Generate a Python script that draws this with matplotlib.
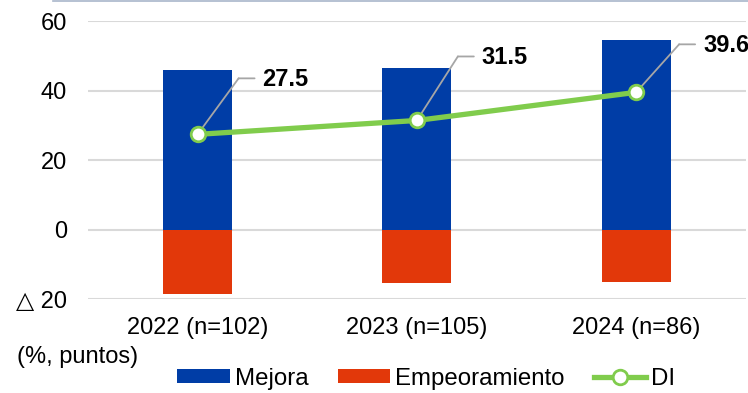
import numpy as np
import matplotlib
matplotlib.use("Agg")
import matplotlib.pyplot as plt
from matplotlib import transforms
from matplotlib.lines import Line2D

plt.rcParams['font.family'] = ['Liberation Sans', 'DejaVu Sans']

# datos
categorias = ["2022 (n=102)", "2023 (n=105)", "2024 (n=86)"]
mejora = [46.1, 46.7, 54.7]
empeoramiento = [-18.6, -15.2, -15.1]
di = [27.5, 31.5, 39.6]
yticks = [-20, 0, 20, 40, 60]
ytick_labels = ["\u25b3 20", "0", "20", "40", "60"]

c_azul = "#003DA6"
c_rojo = "#E2380A"
c_verde = "#80CC4C"
c_gris = "#D9D9D9"

fig = plt.figure(figsize=(7.48, 3.93), dpi=100)
ax = fig.add_axes([0.1176, 0.2384, 0.8794, 0.7069])

x = np.arange(len(categorias))
ancho = 0.314
b1 = ax.bar(x, mejora, ancho, color=c_azul, label="Mejora", zorder=2)
b2 = ax.bar(x, empeoramiento, ancho, color=c_rojo, label="Empeoramiento", zorder=2)
l1, = ax.plot(x, di, color=c_verde, lw=3.8, marker="o", ms=10.5, mfc="white",
              mec=c_verde, mew=2, label="DI", zorder=4)

# lineas guia y etiquetas de DI
desplaz = [(41, 56), (41, 64), (43, 48)]
for xi, v, (dx, dy) in zip(x, di, desplaz):
    codo = transforms.offset_copy(ax.transData, fig=fig, x=dx, y=dy, units="dots")
    ax.annotate("", xy=(xi, v), xytext=(xi, v), textcoords=codo,
                arrowprops=dict(arrowstyle="-", color="#A6A6A6", lw=1.3,
                                shrinkA=0, shrinkB=0), zorder=3)
    ax.annotate("", xy=(xi, v), xycoords=codo, xytext=(16, 0),
                textcoords="offset pixels",
                arrowprops=dict(arrowstyle="-", color="#A6A6A6", lw=1.3,
                                shrinkA=0, shrinkB=0), zorder=3)
    ax.annotate(f"{v}", xy=(xi, v), xytext=(dx + 24, dy - 1),
                textcoords="offset pixels", ha="left", va="center",
                fontsize=17, fontweight="bold", color="black")

ax.set_xlim(-0.5, 2.5)
ax.set_ylim(-20, 60)
ax.set_yticks(yticks)
ax.set_yticklabels(ytick_labels)
ax.set_xticks(x)
ax.set_xticklabels(categorias)
ax.tick_params(axis="both", length=0, labelsize=17, colors="black")
ax.tick_params(axis="y", pad=15)
ax.tick_params(axis="x", pad=13)
ax.grid(axis="y", color=c_gris, lw=1.5, zorder=0)
ax.set_axisbelow(True)
for s in ax.spines.values():
    s.set_visible(False)

fig.text(0.023, 0.092, "(%, puntos)", fontsize=17, ha="left", va="center")

fig.legend([b1, b2, l1], ["Mejora", "Empeoramiento", "DI"],
           loc="center", bbox_to_anchor=(0.57, 0.036), ncol=3, frameon=False,
           fontsize=17.3, handlelength=2.2, handleheight=0.5, handletextpad=0.2,
           columnspacing=1.2, borderaxespad=0, borderpad=0)

fig.add_artist(Line2D([0.071, 1.0], [0.998, 0.998], transform=fig.transFigure,
                      color="#A9B6CB", lw=1.2))

fig.savefig("out.png", dpi=100)
